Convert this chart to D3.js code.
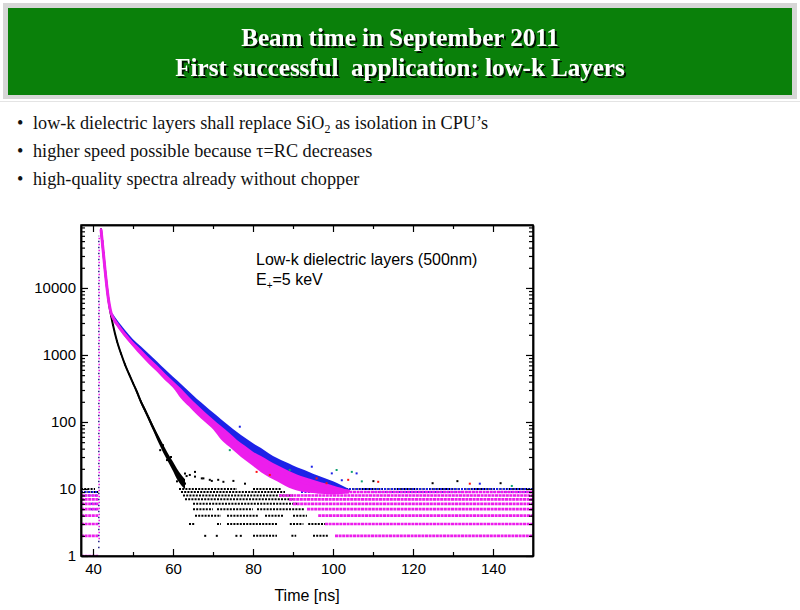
<!DOCTYPE html>
<html><head><meta charset="utf-8">
<script src="https://cdn.jsdelivr.net/npm/d3@7"></script>
<style>
body{margin:0;background:#fff}
svg{display:block}
text{white-space:pre}
</style>
</head><body>
<svg id="c" width="800" height="610"></svg>
<script>
// ---------------- data ----------------
const titleLines = ["Beam time in September 2011", "First successful  application: low-k Layers"];
const xTicks = [40, 60, 80, 100, 120, 140];
const xMinorTicks = [50, 70, 90, 110, 130];
const yTicks = [1, 10, 100, 1000, 10000];

// decay curves (time in ns, counts)
const decayT      = [42, 42.3, 42.6, 43, 43.5, 44, 44.5, 45, 46, 47, 48, 50, 52, 54, 56, 58, 60, 62, 64, 66, 68, 70, 72, 74, 76, 78, 80, 82, 84, 86, 88, 90, 92, 94, 96, 98, 100, 102, 104];
const magentaMid  = [75000, 50000, 33000, 19000, 10000, 6000, 4300, 3600, 2900, 2400, 2000, 1450, 1100, 830, 640, 480, 370, 280, 210, 160, 125, 98, 76, 60, 47, 38, 31, 26, 22, 19, 16.5, 14.5, 13, 12, 11, 10.3, 9.8, 9.5, 9.3];
const magentaLo   = [71000, 47500, 31300, 18000, 9500, 5700, 4100, 3300, 2670, 2200, 1840, 1330, 970, 730, 560, 420, 325, 225, 170, 128, 100, 78, 55, 43, 34, 27, 22, 17.7, 15, 13, 11.2, 9.9, 9.2, 8.8, 8.6, 8.4, 8.3, 8.4, 8.6];
const magentaHi   = [79000, 52500, 34600, 20000, 10500, 6300, 4500, 3900, 3130, 2600, 2160, 1570, 1210, 910, 700, 530, 410, 315, 235, 180, 140, 110, 87, 69, 54, 44, 36, 31, 26.4, 22.8, 19.8, 17.4, 15.6, 14.4, 13.2, 12.2, 11.3, 10.4, 9.6];
const blueLo      = [75000, 50000, 33000, 19000, 10000, 6000, 4300, 3600, 2900, 2400, 2000, 1450, 1100, 830, 640, 480, 370, 280, 210, 160, 125, 98, 76, 60, 47, 38, 31, 26, 22, 19, 16.5, 14.5, 13, 12, 11, 10.3, 9.8, 9.5, 9.3];
const blueHi      = [79000, 52500, 34600, 20000, 10500, 6300, 4500, 4100, 3350, 2800, 2350, 1720, 1340, 1030, 800, 610, 475, 370, 285, 220, 175, 138, 110, 88, 71, 58, 48, 41, 34, 29, 25.5, 22.5, 20, 18, 16, 14.5, 13, 11.5, 10];

const blackT   = [42, 42.3, 42.6, 43, 43.5, 44, 44.5, 45, 46, 47, 48, 49, 50, 51, 52, 53, 54, 55, 56, 57, 58, 59, 60, 61, 62, 63];
const blackMid = [75000, 50000, 33000, 19000, 10000, 5800, 3900, 2800, 1600, 1050, 720, 520, 380, 280, 200, 150, 112, 83, 62, 47, 36, 28, 22, 17, 14, 12];
const blackLo  = [71000, 47500, 31300, 18000, 9500, 5500, 3700, 2650, 1500, 990, 680, 492, 360, 258, 184, 137, 102, 75, 55, 41, 31, 24, 18.5, 14, 11.5, 10];
const blackHi  = [79000, 52500, 34600, 20000, 10500, 6100, 4100, 2950, 1700, 1110, 760, 550, 402, 300, 215, 163, 122, 91, 69, 53, 41, 32, 25.5, 20, 16.5, 14];

// rising edge (time, lowest count, highest count) per series
const edgeSeries = ["navy", "magenta"];
const edgeT      = [41.45, 41.55];
const edgeLo     = [1.3, 1.6];
const edgeHi     = [60000, 65000];

// constant background rows: [count level, t start, t end]
const blackBg = [
  [10, 37, 40.5], [9, 37, 41.3],
  [10, 61.5, 76], [10, 80, 87], [10, 100, 150],
  [9, 62, 88], [8, 62.5, 90], [7, 63, 90], [6, 65, 91],
  [5, 65, 70], [5, 71, 80], [5, 81, 93],
  [4, 65.5, 72], [4, 73.5, 81.5], [4, 83, 87.6], [4, 90, 93.5],
  [3, 64, 65.5], [3, 71, 72], [3, 73.5, 86.3], [3, 89.2, 92.6], [3, 93.8, 98],
  [2, 67.8, 68.3], [2, 70.7, 71.2], [2, 75.6, 76.1], [2, 76.7, 77.2], [2, 80, 86], [2, 89.6, 90.8], [2, 95, 99]
];
const blueBg = [
  [9, 37, 41.3], [8, 37, 41.3], [6, 39.5, 41.3], [5, 39.5, 41.3],
  [9, 92, 150], [10, 104, 150]
];
const magentaBg = [
  [1, 37, 41.3], [2, 37, 41.3], [3, 37, 41.3], [4, 37, 41.3], [5, 37, 41.3], [6, 37, 41.3], [7, 37, 41.3], [8, 37, 41.3],
  [2, 100.5, 150], [3, 98, 150], [4, 96.3, 150], [5, 93.5, 150], [6, 90, 150], [7, 89, 150], [8, 86.5, 150], [9, 96, 150]
];

// scattered single points: [t, counts, series]
const noisePts = [
  [60.5, 18, "black"], [62.2, 14.4, "black"], [63, 17, "black"], [63.4, 15.6, "black"], [64.2, 16.2, "black"],
  [65.5, 18, "black"], [65.5, 15.3, "black"], [67.2, 14.4, "black"], [67.6, 14.4, "black"], [69.2, 13.7, "black"],
  [69.7, 13.2, "black"], [71.3, 13.7, "black"], [72.6, 12.8, "black"], [75.1, 13.2, "black"], [78, 12, "black"],
  [57.5, 45, "black"], [58.5, 27, "black"], [59.5, 30, "black"], [61, 13, "black"], [56.8, 38, "black"],
  [74.2, 38, "green"], [76.7, 85, "blue"], [80.9, 18, "red"], [84.2, 16.2, "red"], [89.2, 19.2, "green"],
  [94.7, 21.5, "blue"], [95.9, 14.4, "red"], [98.4, 12.2, "red"], [99.7, 17.1, "blue"], [100.9, 19.2, "green"],
  [102.2, 13.5, "blue"], [103.8, 13.7, "red"], [104.7, 18, "green"], [105.9, 17.1, "blue"], [107.2, 13, "green"],
  [110.1, 13.1, "black"], [111.3, 12.8, "red"], [124.9, 12.2, "black"], [131.1, 13.1, "black"], [134.2, 12, "red"],
  [136.7, 12, "blue"], [141.9, 12.2, "black"], [144.7, 11.1, "green"]
];

// ---------------- drawing ----------------
const svg = d3.select("#c");
const colors = {black: "#000000", blue: "#1c22e8", magenta: "#ec1eec", navy: "#2a2a8a", red: "#ff1010", green: "#10a070"};

const defs = svg.append("defs");
const sh = defs.append("filter").attr("id", "shadow").attr("x", "-5%").attr("y", "-20%").attr("width", "110%").attr("height", "150%");
sh.append("feDropShadow").attr("dx", 2).attr("dy", 2).attr("stdDeviation", 0.7)
  .attr("flood-color", "#000").attr("flood-opacity", 0.85);

// header
svg.append("rect").attr("x", 3).attr("y", 3).attr("width", 794).attr("height", 96).attr("fill", "#d6d6d6");
svg.append("rect").attr("x", 8).attr("y", 8).attr("width", 784).attr("height", 87).attr("fill", "#0a800a");
const titleY = [46, 76];
titleLines.forEach((t, i) => {
  svg.append("text").attr("x", 400).attr("y", titleY[i]).attr("text-anchor", "middle")
    .attr("font-family", "'Liberation Serif','Times New Roman',serif").attr("font-weight", "bold")
    .attr("font-size", 25).attr("fill", "#ffffff").attr("filter", "url(#shadow)").text(t);
});
svg.append("line").attr("x1", 0).attr("x2", 800).attr("y1", 101.5).attr("y2", 101.5).attr("stroke", "#e4e4e4");

// bullets
const bulletY = [129, 157, 185];
const bf = "'Liberation Serif','Times New Roman',serif";
const bs = 18.2;
bulletY.forEach(by => svg.append("text").attr("x", 17).attr("y", by).attr("font-family", bf).attr("font-size", bs).attr("fill", "#111").text("•"));
const b1 = svg.append("text").attr("x", 33).attr("y", bulletY[0]).attr("font-family", bf).attr("font-size", bs).attr("fill", "#111");
b1.append("tspan").text("low-k dielectric layers shall replace SiO");
b1.append("tspan").attr("font-size", 12).attr("dy", 4).text("2");
b1.append("tspan").attr("dy", -4).text(" as isolation in CPU’s");
svg.append("text").attr("x", 33).attr("y", bulletY[1]).attr("font-family", bf).attr("font-size", bs).attr("fill", "#111")
  .text("higher speed possible because τ=RC decreases");
svg.append("text").attr("x", 33).attr("y", bulletY[2]).attr("font-family", bf).attr("font-size", bs).attr("fill", "#111")
  .text("high-quality spectra already without chopper");

// plot
const L = 81, R = 533, T = 225, B = 556;
const x = d3.scaleLinear().domain([37, 150]).range([L, R]);
const y = d3.scaleLog().domain([1, 87000]).range([B, T]);

svg.append("clipPath").attr("id", "clip").append("rect").attr("x", L).attr("y", T).attr("width", R - L).attr("height", B - T);
const g = svg.append("g").attr("clip-path", "url(#clip)");

function rows(data, key, dash, width) {
  g.append("g").selectAll("line").data(data).join("line")
    .attr("x1", d => x(d[1])).attr("x2", d => x(d[2]))
    .attr("y1", d => y(d[0])).attr("y2", d => y(d[0]))
    .attr("stroke", colors[key]).attr("stroke-width", width).attr("stroke-dasharray", dash);
}
function band(ts, lo, hi, key, op) {
  const pts = ts.map((t, i) => ({t, lo: lo[i], hi: hi[i]}));
  g.append("path").datum(pts)
    .attr("d", d3.area().x(d => x(d.t)).y0(d => y(d.lo)).y1(d => y(d.hi)).curve(d3.curveMonotoneX))
    .attr("fill", colors[key]).attr("opacity", op);
}
function curve(ts, vals, key, w) {
  const pts = ts.map((t, i) => ({t, v: vals[i]}));
  g.append("path").datum(pts)
    .attr("d", d3.line().x(d => x(d.t)).y(d => y(d.v)).curve(d3.curveMonotoneX))
    .attr("fill", "none").attr("stroke", colors[key]).attr("stroke-width", w);
  g.append("g").selectAll("rect").data(pts).join("rect")
    .attr("x", d => x(d.t) - 1).attr("y", d => y(d.v) - 1).attr("width", 2).attr("height", 2)
    .attr("fill", colors[key]);
}

// background rows
rows(blackBg, "black", "2,1.2", 2);
rows(blueBg, "blue", "2,1.5", 2);
rows(magentaBg, "magenta", "3,0.6", 2.6);

// bands
band(blackT, blackLo, blackHi, "black", 1);
curve(blackT, blackMid, "black", 2);
band(decayT, blueLo, blueHi, "blue", 1);
band(decayT, magentaLo, magentaHi, "magenta", 1);
curve(decayT, magentaMid, "magenta", 3);

// rising edge
edgeSeries.forEach((s, i) => {
  g.append("line").attr("x1", x(edgeT[i])).attr("x2", x(edgeT[i]))
    .attr("y1", y(edgeLo[i])).attr("y2", y(edgeHi[i]))
    .attr("stroke", colors[s]).attr("stroke-width", 1.6)
    .attr("stroke-dasharray", "1.6,4.4").attr("stroke-dashoffset", i * 3);
});

// scattered points
g.append("g").selectAll("rect").data(noisePts).join("rect")
  .attr("x", d => x(d[0]) - 1).attr("y", d => y(d[1]) - 1).attr("width", 2).attr("height", 2)
  .attr("fill", d => colors[d[2]]);

// axes
const af = "'Liberation Sans', Arial, sans-serif";
const minorY = y.ticks().filter(v => !yTicks.includes(v) && v < 87000);
function styleAxis(sel) {
  sel.selectAll("path").attr("stroke", "#000").attr("stroke-width", 1.5);
  sel.selectAll("line").attr("stroke", "#000").attr("stroke-width", 1.2);
  sel.selectAll("text").attr("font-family", af).attr("font-size", 15).attr("fill", "#000");
}
const gx = svg.append("g").attr("transform", `translate(0,${B})`)
  .call(d3.axisBottom(x).tickValues(xTicks).tickSizeInner(-7).tickSizeOuter(0).tickPadding(7).tickFormat(d3.format("d")));
styleAxis(gx);
const gxm = svg.append("g").attr("transform", `translate(0,${B})`)
  .call(d3.axisBottom(x).tickValues(xMinorTicks).tickSizeInner(-4).tickSizeOuter(0).tickFormat(""));
styleAxis(gxm);
const gxt = svg.append("g").attr("transform", `translate(0,${T})`)
  .call(d3.axisTop(x).tickValues(xTicks).tickSizeInner(-7).tickSizeOuter(0).tickFormat(""));
styleAxis(gxt);
const gxtm = svg.append("g").attr("transform", `translate(0,${T})`)
  .call(d3.axisTop(x).tickValues(xMinorTicks).tickSizeInner(-4).tickSizeOuter(0).tickFormat(""));
styleAxis(gxtm);

const gy = svg.append("g").attr("transform", `translate(${L},0)`)
  .call(d3.axisLeft(y).tickValues(yTicks).tickSizeInner(-7).tickSizeOuter(0).tickPadding(5).tickFormat(d3.format("d")));
styleAxis(gy);
const gym = svg.append("g").attr("transform", `translate(${L},0)`)
  .call(d3.axisLeft(y).tickValues(minorY).tickSizeInner(-4).tickSizeOuter(0).tickFormat(""));
styleAxis(gym);
const gyr = svg.append("g").attr("transform", `translate(${R},0)`)
  .call(d3.axisRight(y).tickValues(yTicks).tickSizeInner(-7).tickSizeOuter(0).tickFormat(""));
styleAxis(gyr);
const gyrm = svg.append("g").attr("transform", `translate(${R},0)`)
  .call(d3.axisRight(y).tickValues(minorY).tickSizeInner(-4).tickSizeOuter(0).tickFormat(""));
styleAxis(gyrm);

svg.append("rect").attr("x", L).attr("y", T).attr("width", R - L).attr("height", B - T)
  .attr("fill", "none").attr("stroke", "#000").attr("stroke-width", 1.5);

svg.append("text").attr("x", (L + R) / 2).attr("y", 601).attr("text-anchor", "middle")
  .attr("font-family", af).attr("font-size", 16).attr("fill", "#000").text("Time [ns]");

// annotation
svg.append("text").attr("x", 256).attr("y", 265).attr("font-family", af).attr("font-size", 16).attr("fill", "#000")
  .text("Low-k dielectric layers (500nm)");
const e = svg.append("text").attr("x", 256).attr("y", 285).attr("font-family", af).attr("font-size", 16).attr("fill", "#000");
e.append("tspan").text("E");
e.append("tspan").attr("font-size", 10).attr("dy", 4).text("+");
e.append("tspan").attr("dy", -4).text("=5 keV");
</script>
</body></html>
